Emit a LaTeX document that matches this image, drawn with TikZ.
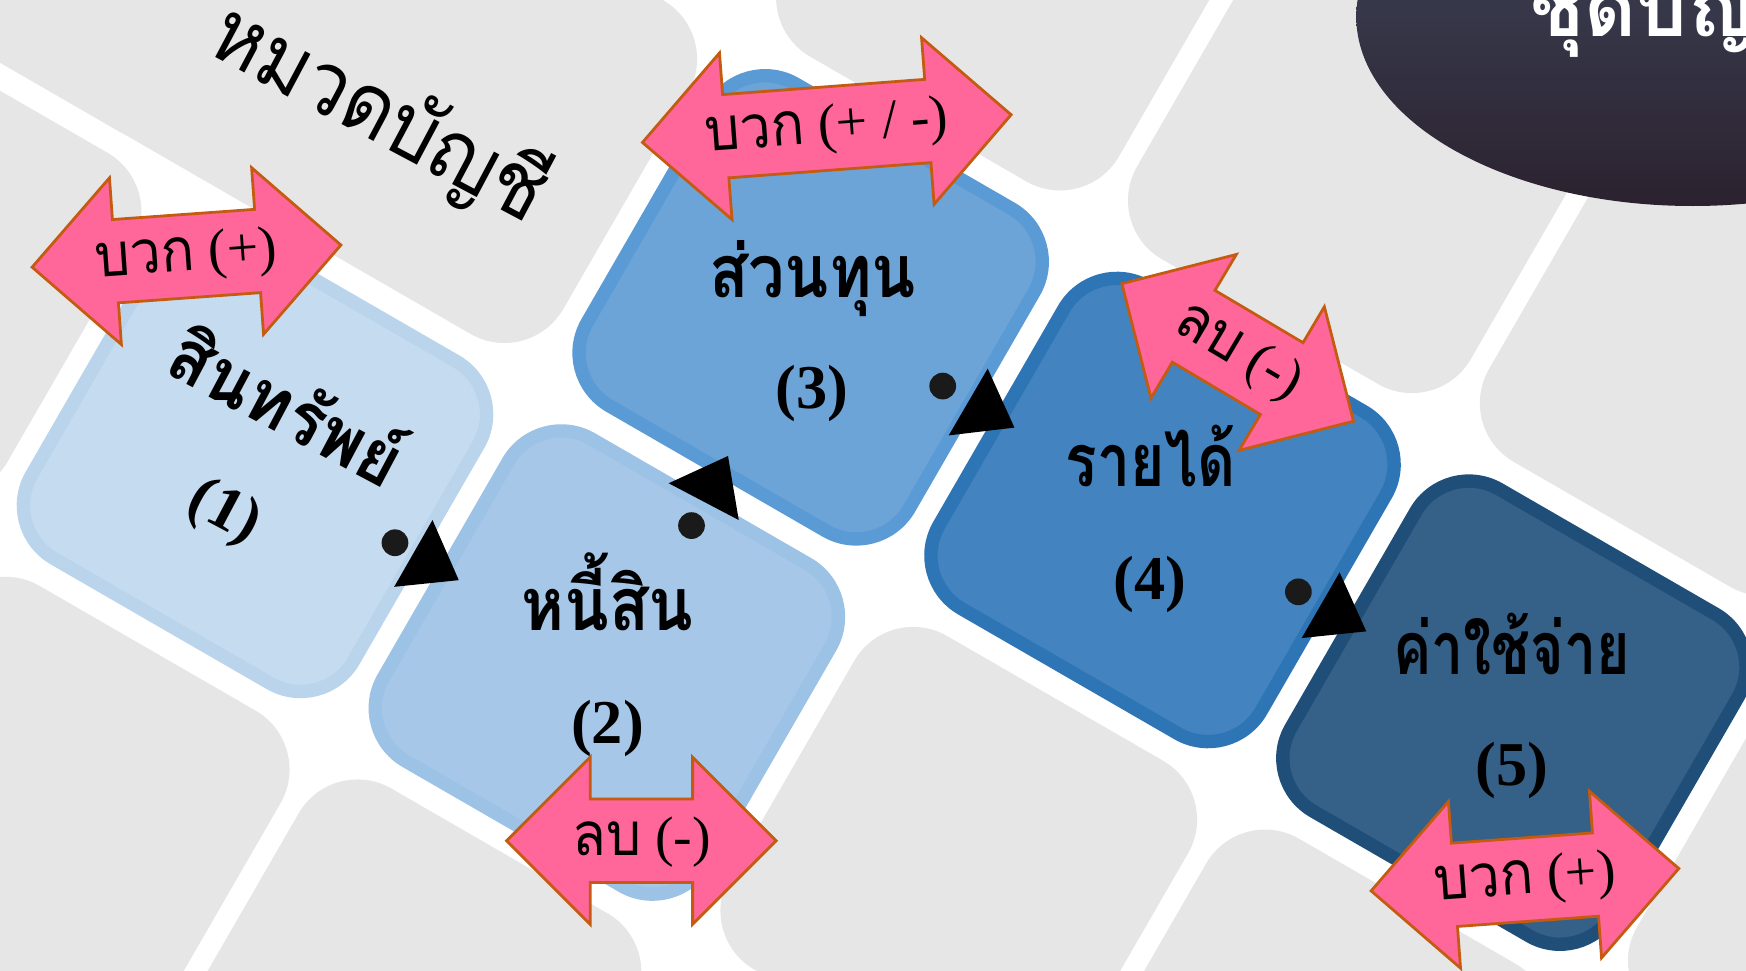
\documentclass[tikz,border=0pt]{standalone}
\usepackage{fontspec}
\setmainfont{Liberation Serif}
\newfontfamily\thaifont[Script=Thai]{Loma}
\definecolor{cellgray}{HTML}{E6E6E6}
\definecolor{fillA}{HTML}{C5DBEF}
\definecolor{lineA}{HTML}{BAD4EC}
\definecolor{fillB}{HTML}{A6C7E8}
\definecolor{lineB}{HTML}{9CC2E5}
\definecolor{fillC}{HTML}{6CA4D8}
\definecolor{lineC}{HTML}{5B9BD5}
\definecolor{fillD}{HTML}{4383BF}
\definecolor{lineD}{HTML}{2E75B6}
\definecolor{fillE}{HTML}{356087}
\definecolor{lineE}{HTML}{1F4E79}
\definecolor{pinkfill}{HTML}{FF6699}
\definecolor{pinkline}{HTML}{C55A11}
\definecolor{ovalTop}{RGB}{60,68,88}
\definecolor{ovalBot}{RGB}{38,22,33}
\definecolor{dotgray}{HTML}{1A1A1A}
\tikzset{
 cell/.style={fill=cellgray, rounded corners=61pt, minimum width=346pt, minimum height=346pt, rotate=-30, inner sep=0pt, outer sep=0pt},
 box/.style={line width=12pt, rounded corners=55pt, minimum width=334pt, minimum height=334pt, rotate=-30, inner sep=0pt},
 pinkshape/.style={fill=pinkfill, draw=pinkline, line width=2.5pt, line join=miter},
 boxlbl/.style={font=\thaifont\bfseries\fontsize{66}{76}\selectfont, inner sep=0pt, anchor=base},
 boxnum/.style={font=\bfseries\fontsize{56}{60}\selectfont, inner sep=0pt},
 arrowlbl/.style={font=\fontsize{50}{60}\selectfont, inner sep=0pt},
 dotnode/.style={circle, fill=dotgray, minimum size=24pt, inner sep=0pt},
}
\newcommand{\thaiarr}[1]{\scalebox{0.92}[1]{\thaifont\fontsize{54}{60}\selectfont #1}}
\newcommand{\pinkarrow}[4]{%
 \begin{scope}[shift={(#1,#2)}, rotate=#3]
   \pgfmathsetmacro\hL{#4/2}
   \pgfmathsetmacro\hB{#4/2-75}
   \draw[pinkshape] (-\hL,0) -- (-\hB,-75) -- (-\hB,-37.5) -- (\hB,-37.5) -- (\hB,-75) -- (\hL,0)
     -- (\hB,75) -- (\hB,37.5) -- (-\hB,37.5) -- (-\hB,75) -- cycle;
 \end{scope}}
\begin{document}
\begin{tikzpicture}[x=1pt,y=-1pt]
\clip (0,0) rectangle (1568,872);
\fill[white] (0,0) rectangle (1568,872);
% lattice of background cells and boxes
\begin{scope}[shift={(229,413)}, x={(316pt,-182pt)}, y={(183pt,319pt)}]
 \foreach \a/\b/\n in {-1/0/c1, 0/-1/c2, 1/-1/c3, 2/0/c4, 3/0/c5, 4/1/c6, 3/2/c7, 2/2/c8, 1/2/c9, 0/1/c10, -1/1/c11, 2/-1/c12, 4/0/c13, 3/3/c14, 2/3/c15, 0/2/c16, -1/-1/c17, 4/2/c18}
   \node[cell] (\n) at (\a,\b) {};
 \node[cell, sharp corners, minimum width=180pt] (cfill) at (-0.5,1) {};
 \node[box, fill=fillA, draw=lineA] (b1) at (0,0) {};
 \node[box, fill=fillB, draw=lineB] (b2) at (1,0) {};
 \node[box, fill=fillC, draw=lineC] (b3) at (1,1) {};
 \node[box, fill=fillD, draw=lineD] (b4) at (2,1) {};
 \node[box, fill=fillE, draw=lineE] (b5) at (3,1) {};
\end{scope}
% dark oval at top right
\begin{scope}
 \clip (1520,15) ellipse [x radius=302pt, y radius=170pt];
 \shade[top color=ovalTop, bottom color=ovalBot] (1200,-92.5) rectangle (1830,277.5);
\end{scope}
\node[font=\thaifont\bfseries\fontsize{72}{80}\selectfont, text=white, anchor=base west, inner sep=0pt] (oval) at (1374,33) {ชุดบัญชี};
% title
\node[font=\thaifont\fontsize{78}{86}\selectfont, anchor=base, rotate=-28, xscale=0.9, inner sep=0pt] (title) at (329,124) {หมวดบัญชี};
% connectors: dot and triangle
\node[dotnode] (d1) at (354.7,487.4) {};
\fill (388.4,467) -- (354,527) -- (412,521) -- cycle;
\node[dotnode] (d2) at (621,472) {};
\fill (600.5,434) -- (653.8,409.5) -- (663.4,467) -- cycle;
\node[dotnode] (d3) at (846.6,346.7) {};
\fill (887,331) -- (852,391) -- (911,384) -- cycle;
\node[dotnode] (d4) at (1166,531.5) {};
\fill (1203,514) -- (1169,573) -- (1227,567) -- cycle;
% box labels
\node[boxlbl, rotate=-28, xscale=0.92] (t1) at (246,387) {สินทรัพย์};
\node[boxnum, rotate=-28] (n1) at (201,461) {(1)};
\node[boxlbl, xscale=0.89] (t2) at (545.6,566) {หนี้สิน};
\node[boxnum] (n2) at (545.6,654) {(2)};
\node[boxlbl, xscale=0.88] (t3) at (729.7,267) {ส่วนทุน};
\node[boxnum] (n3) at (729.5,353) {(3)};
\node[boxlbl, xscale=0.8] (t4) at (1033.5,437) {รายได้};
\node[boxnum] (n4) at (1032.8,524.6) {(4)};
\node[boxlbl, xscale=0.78] (t5) at (1357.6,606) {ค่าใช้จ่าย};
\node[boxnum] (n5) at (1358,692) {(5)};
% pink double arrows
\pinkarrow{167.5}{230}{4.1}{278}
\node[arrowlbl, rotate=4.1] (a1) at (167.5,231) {\thaiarr{บวก} (+)};
\pinkarrow{742.5}{115.5}{4.3}{332}
\node[arrowlbl, rotate=4.3] (a2) at (742.5,116) {\thaiarr{บวก} (+ / -)};
\pinkarrow{1111.5}{316.5}{-30.7}{242}
\node[arrowlbl, rotate=-30.7] (a3) at (1111.5,317) {\thaiarr{ลบ} (-)};
\pinkarrow{576}{755}{0}{242}
\node[arrowlbl] (a4) at (576,756) {\thaiarr{ลบ} (-)};
\pinkarrow{1369.5}{790}{4.16}{277}
\node[arrowlbl, rotate=4.16] (a5) at (1369.5,791) {\thaiarr{บวก} (+)};
\end{tikzpicture}
\end{document}
